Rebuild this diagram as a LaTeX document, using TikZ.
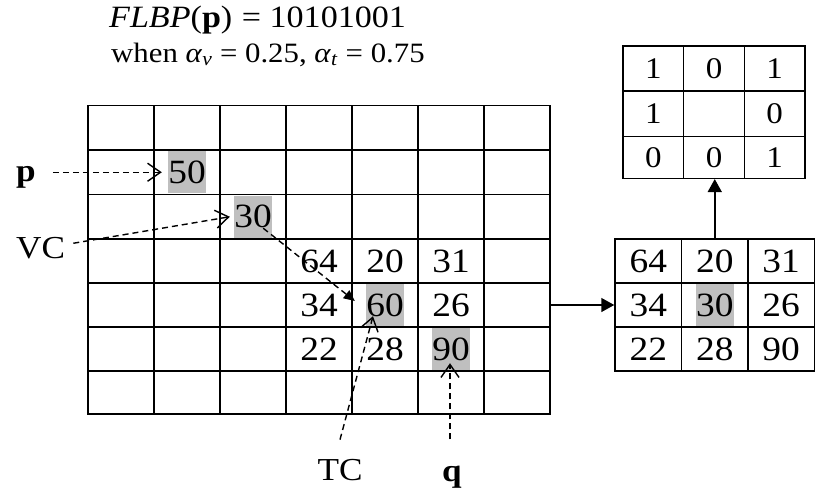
\documentclass[tikz,border=0pt]{standalone}
\usepackage{fontspec}
\setmainfont{Liberation Serif}[FakeStretch=1.1]
\usetikzlibrary{arrows.meta,calc}

\begin{document}
\begin{tikzpicture}[x=1pt,y=-1pt,
  gridline/.style={line width=1.5pt, black},
  num/.style={inner sep=0pt, minimum width=38pt, minimum height=42pt,
    font=\fontsize{34}{40}\selectfont},
  hl/.style={num, fill=gray!50},
  cellbox/.style={draw, line width=1.5pt, minimum width=66.5pt, minimum height=44pt,
    inner sep=0pt, font=\fontsize{34}{40}\selectfont},
  bitbox/.style={draw, line width=1.5pt, minimum width=60.7pt, inner sep=0pt,
    font=\fontsize{30}{36}\selectfont},
  lbl/.style={inner sep=0pt, font=\fontsize{32}{38}\selectfont},
  head/.style={inner sep=0pt, anchor=base west},
  dasharrow/.style={line width=1.4pt, dash pattern=on 6pt off 4pt,
    -{Straight Barb[length=13pt,width=18pt]}},
  solidarrow/.style={line width=1.5pt, -{Triangle[length=13pt,width=14pt]}},
  smallarrow/.style={line width=1.4pt, dash pattern=on 6pt off 4pt,
    -{Triangle[length=11pt,width=10pt]}},
]
\useasboundingbox (0,0) rectangle (817,496);

% heading
\node[head, font=\fontsize{31}{34}\selectfont] (title) at (109,27)
  {\textit{FLBP}(\textbf{p})\hspace{1pt} = 10101001};
\node[head, font=\fontsize{28}{32}\selectfont] (cond) at (111,62)
  {when \textit{α}\textsubscript{\textit{v}} = 0.25, \textit{α}\textsubscript{\textit{t}} = 0.75};

% pixel values of the image window
\node[hl]  (b50) at (187,172.25) {50};
\node[hl]  (b30) at (253,216.75) {30};
\node[num] (b64) at (319,261) {64};
\node[num] (b20) at (385,261) {20};
\node[num] (b31) at (451,261) {31};
\node[num] (b34) at (319,305) {34};
\node[hl]  (b60) at (385,305) {60};
\node[num] (b26) at (451,305) {26};
\node[num] (b22) at (319,349) {22};
\node[num] (b28) at (385,349) {28};
\node[hl]  (b90) at (451,349) {90};

% 7x7 grid
\node[draw, line width=1.5pt, outer sep=0pt, inner sep=0pt,
  minimum width=462pt, minimum height=308.5pt] (big) at (319,259.75) {};
\foreach \x in {154,220,286,352,418,484}
  \draw[gridline] (\x,105.5) -- (\x,414);
\foreach \y in {150,194.5,239,283,327,371}
  \draw[gridline] (88,\y) -- (550,\y);

% labels
\node[lbl, anchor=base, font=\fontsize{32}{38}\selectfont\bfseries] (plbl) at (26,181) {p};
\node[lbl, anchor=base west] (vclbl) at (16,258) {VC};
\node[lbl, anchor=base] (tclbl) at (340,480) {TC};
\node[lbl, anchor=base, font=\fontsize{32}{38}\selectfont\bfseries] (qlbl) at (452,481) {q};

% pointers
\draw[dasharrow] ($(plbl.east |- b50.west)+(17,0)$) -- ($(b50.west)+(-6,0)$);
\draw[dasharrow] ($(vclbl.east)+(8,-4.4)$) -- ($(b30.west)+(-4,0)$);
\draw[smallarrow] ($(b30.south east)+(-9,-9.75)$) -- ($(b60.west)+(-11,-4)$);
\draw[dasharrow] ($(tclbl.north)+(0,-19)$) -- ($(b60.south)+(-12,-10)$);
\draw[dasharrow] ($(qlbl.north)+(-2,-26)$) -- ($(b90.south)+(-1,-7)$);

% 3x3 neighbourhood
\node[cellbox] (r64) at (648.25,261) {64};
\node[cellbox] (r20) at (714.75,261) {20};
\node[cellbox] (r31) at (781,261) {31};
\node[cellbox] (r34) at (648.25,305) {34};
\node[cellbox] (rc)  at (714.75,305) {};
\node[hl]      (r30) at (rc) {30};
\node[cellbox] (r26) at (781,305) {26};
\node[cellbox] (r22) at (648.25,349) {22};
\node[cellbox] (r28) at (714.75,349) {28};
\node[cellbox] (r90) at (781,349) {90};

% binary pattern
\node[bitbox, minimum height=45pt]   (k00) at (653.3,68.5) {1};
\node[bitbox, minimum height=45pt]   (k01) at (714,68.5) {0};
\node[bitbox, minimum height=45pt]   (k02) at (774.7,68.5) {1};
\node[bitbox, minimum height=45.7pt] (k10) at (653.3,113.85) {1};
\node[bitbox, minimum height=45.7pt] (k11) at (714,113.85) {};
\node[bitbox, minimum height=45.7pt] (k12) at (774.7,113.85) {0};
\node[bitbox, minimum height=41.6pt] (k20) at (653.3,157.5) {0};
\node[bitbox, minimum height=41.6pt] (k21) at (714,157.5) {0};
\node[bitbox, minimum height=41.6pt] (k22) at (774.7,157.5) {1};

% flow arrows
\draw[solidarrow] (big.east |- r34.west) -- (r34.west);
\draw[solidarrow] (r20.north) -- (r20.north |- k21.south);
\end{tikzpicture}
\end{document}
